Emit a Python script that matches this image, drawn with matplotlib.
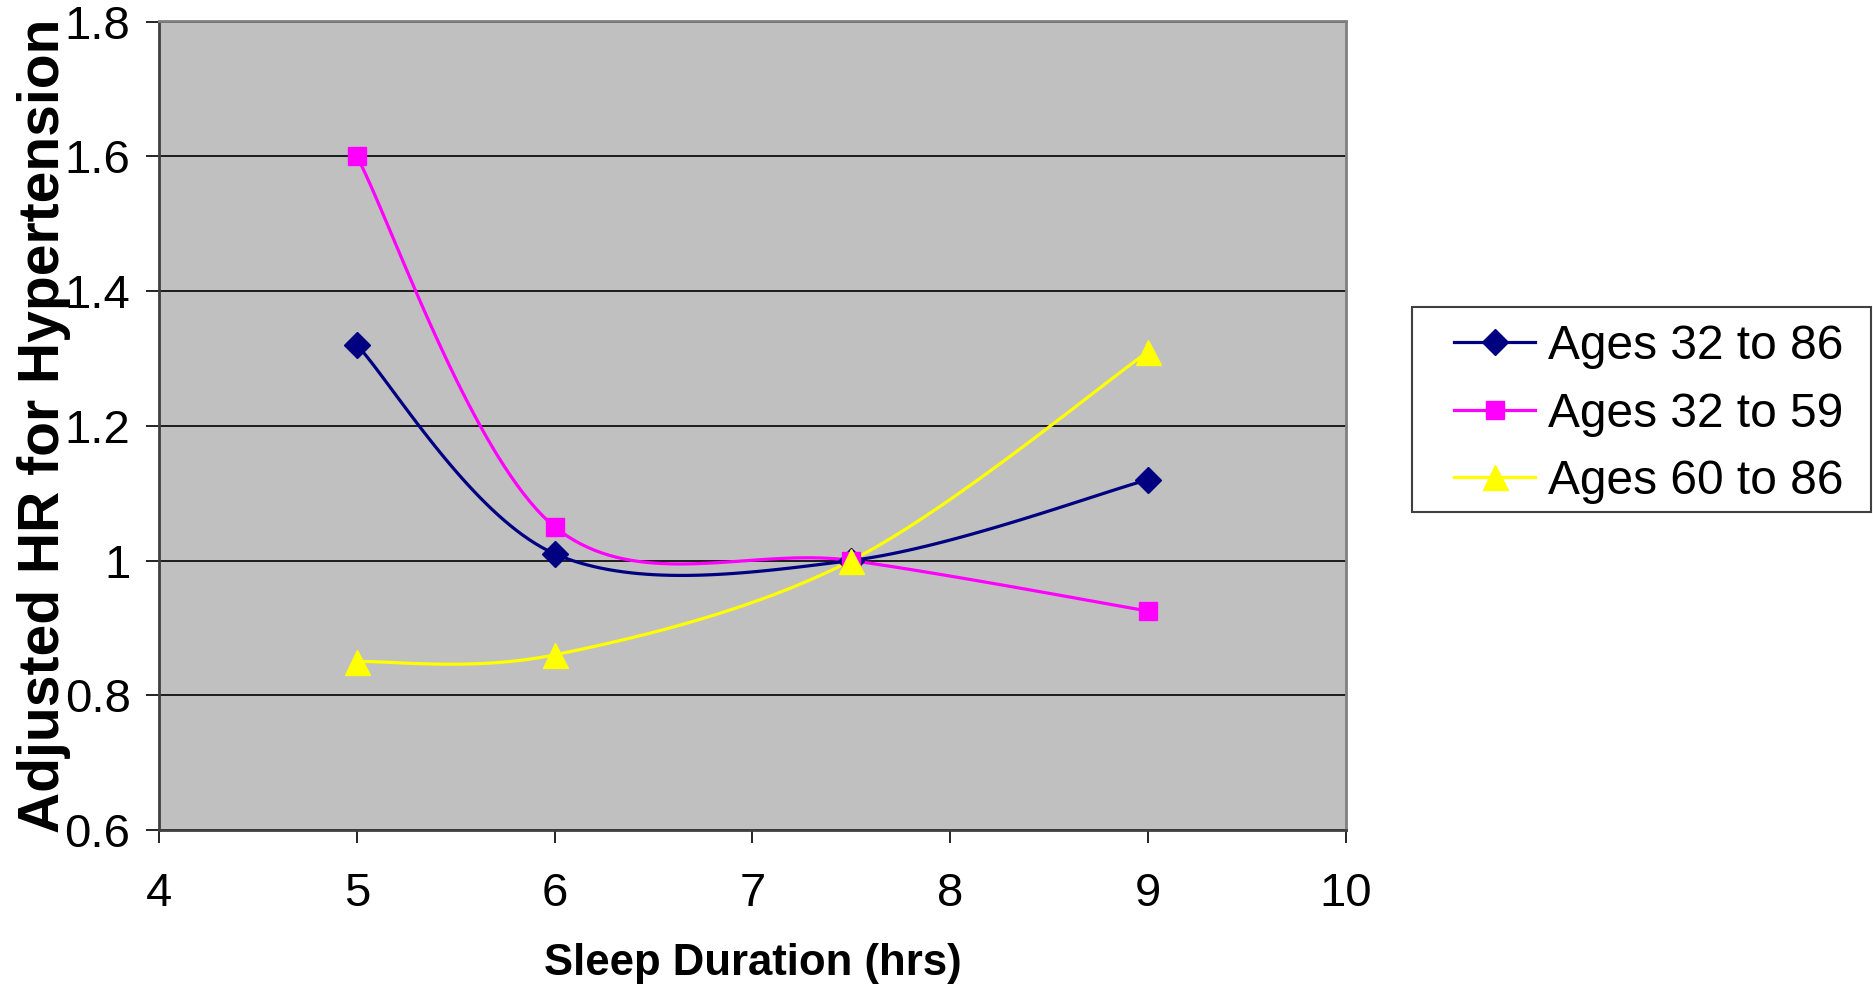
import numpy as np
import matplotlib
matplotlib.use("Agg")
import matplotlib.pyplot as plt
from matplotlib.patches import Rectangle

plt.rcParams['font.family'] = ['Liberation Sans', 'DejaVu Sans']

# data
sleep_hours = [5, 6, 7.5, 9]
hr_ages_32_86 = [1.32, 1.01, 1.00, 1.12]
hr_ages_32_59 = [1.60, 1.05, 1.00, 0.925]
hr_ages_60_86 = [0.85, 0.86, 1.00, 1.31]
series_names = ["Ages 32 to 86", "Ages 32 to 59", "Ages 60 to 86"]


def excel_smooth(xs, ys, n=40):
    # Excel-style smoothed line: bezier segments with catmull-rom control points
    p = np.column_stack([xs, ys]).astype(float)
    p = np.vstack([p[0], p, p[-1]])
    out = []
    t = np.linspace(0, 1, n)[:, None]
    for i in range(1, len(p) - 2):
        a, b = p[i], p[i + 1]
        c1 = a + (p[i + 1] - p[i - 1]) / 6
        c2 = b - (p[i + 2] - p[i]) / 6
        seg = ((1 - t) ** 3) * a + 3 * ((1 - t) ** 2) * t * c1 + 3 * (1 - t) * t ** 2 * c2 + t ** 3 * b
        out.append(seg if i == 1 else seg[1:])
    out = np.vstack(out)
    return out[:, 0], out[:, 1]


fig = plt.figure(figsize=(18.73, 9.88), dpi=100)
ax = fig.add_axes([159 / 1873, 1 - 830 / 988, (1346 - 159) / 1873, (830 - 21.5) / 988])
ax.set_facecolor('#C0C0C0')

styles = [('#000080', 'D', 13), ('#FF00FF', 's', 13), ('#FFFF00', '^', 18)]
handles = []
for vals, name, (col, mk, ms) in zip([hr_ages_32_86, hr_ages_32_59, hr_ages_60_86], series_names, styles):
    sx, sy = excel_smooth(sleep_hours, vals)
    ax.plot(sx, sy, color=col, lw=2.3, zorder=3)
    ax.plot(sleep_hours, vals, ls='none', marker=mk, ms=ms, color=col, zorder=4)
    h, = ax.plot([], [], color=col, lw=2.3, marker=mk, ms=ms, label=name)
    handles.append(h)

ax.set_xlim(4, 10)
ax.set_ylim(0.6, 1.8)
ax.set_xticks(range(4, 11))
ax.set_yticks([0.6, 0.8, 1.0, 1.2, 1.4, 1.6, 1.8])
ax.set_yticklabels(['0.6', '0.8', '1', '1.2', '1.4', '1.6', '1.8'])
ax.yaxis.grid(True, color='black', lw=1.2)
ax.set_axisbelow(True)
ax.tick_params(axis='both', direction='out', length=9.5, width=1.2, labelsize=34, color='black')
ax.tick_params(axis='y', pad=11)
ax.tick_params(axis='x', pad=21)
for s in ['top', 'right']:
    ax.spines[s].set_color('#808080')
    ax.spines[s].set_linewidth(2)
for s in ['left', 'bottom']:
    ax.spines[s].set_color('#404040')
    ax.spines[s].set_linewidth(2)

fig.text(44 / 1873, 1 - 426 / 988, 'Adjusted HR for Hypertension', rotation=90,
         ha='center', va='center', fontsize=41, fontweight='bold')
fig.text(753 / 1873, 1 - 963 / 988, 'Sleep Duration (hrs)',
         ha='center', va='center', fontsize=31.5, fontweight='bold')

# legend box drawn separately, entries placed inside it
fig.patches.append(Rectangle((1412 / 1873, 1 - 512 / 988), (1871 - 1412) / 1873, (512 - 307) / 988,
                             transform=fig.transFigure, facecolor='white',
                             edgecolor='#404040', lw=1.5, zorder=1))
leg = fig.legend(handles=handles, loc='center left', bbox_to_anchor=(1454 / 1873, 1 - 414 / 988),
                 bbox_transform=fig.transFigure, fontsize=34.5, frameon=False,
                 handlelength=1.7, labelspacing=0.47, borderpad=0,
                 borderaxespad=0, handletextpad=0.26)
leg.set_zorder(5)

fig.savefig('out.png', dpi=100)
